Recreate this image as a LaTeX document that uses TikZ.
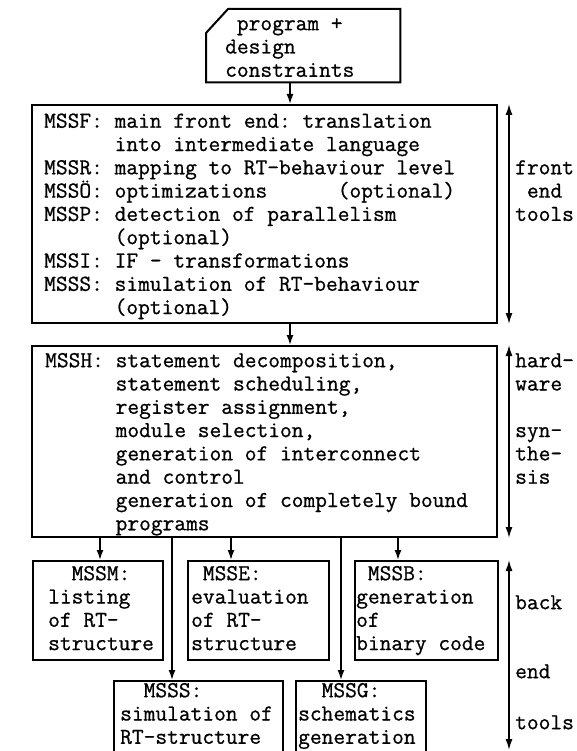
\documentclass[tikz,border=0pt]{standalone}
\usepackage{fontspec}
\setmonofont{Latin Modern Mono}[FakeBold=0.8]
\usetikzlibrary{arrows.meta}
% typewriter face used for every label
\newcommand\tw{\fontsize{22.8pt}{23.3pt}\selectfont\ttfamily}
% fixed first-line height so blocks can be placed by their top
\newcommand\fl{\rule{0pt}{18pt}}
% blank space as wide as the given characters
\newcommand\ind[1]{\hphantom{#1}}
\begin{document}
\begin{tikzpicture}[x=1pt,y=-1pt,line join=miter,
  box/.style={draw,line width=2pt,inner sep=0pt,anchor=north west},
  txt/.style={font=\tw,align=left,inner sep=0pt,anchor=north west},
  arr/.style={line width=1.5pt,-{Latex[length=10pt,width=7pt]}},
  darr/.style={line width=1.5pt,{Latex[length=11pt,width=7pt]}-{Latex[length=11pt,width=7pt]}}]
\useasboundingbox (0,0) rectangle (577,751);

% input box with the cut corner
\node[inner sep=0pt,minimum width=194pt,minimum height=73pt,anchor=north west] (prog) at (206,9) {};
\draw[line width=2pt] (prog.north west) ++(0,24) -- ++(22,-24) -- (prog.north east)
  -- (prog.south east) -- (prog.south west) -- cycle;
\node[txt] (progtxt) at (225,12) {\fl\ind{x}program +\\design\\constraints};

% front end tools
\node[box,minimum width=465pt,minimum height=218pt] (fe) at (31,104) {};
\node[txt] (fetxt) at (44,109.5) {\fl MSSF: main front end: translation\\
\ind{MSSF: }into intermediate language\\
MSSR: mapping to RT-behaviour level\\
MSSÖ: optimizations\ind{xxxxxx}(optional)\\
MSSP: detection of parallelism\\
\ind{MSSP: }(optional)\\
MSSI: IF - transformations\\
MSSS: simulation of RT-behaviour\\
\ind{MSSS: }(optional)};

% hardware synthesis
\node[box,minimum width=465pt,minimum height=191pt] (hw) at (31,345) {};
\node[txt] (hwtxt) at (45,349) {\fl MSSH: statement decomposition,\\
\ind{MSSH: }statement scheduling,\\
\ind{MSSH: }register assignment,\\
\ind{MSSH: }module selection,\\
\ind{MSSH: }generation of interconnect\\
\ind{MSSH: }and control\\
\ind{MSSH: }generation of completely bound\\
\ind{MSSH: }programs};

% back end tools, first row
\node[box,minimum width=130pt,minimum height=99pt] (mssm) at (32,560) {};
\node[txt] (mssmtxt) at (48,562) {\fl\ind{xx}MSSM:\\listing\\of RT-\\structure};
\node[box,minimum width=141pt,minimum height=99pt] (msse) at (187,560) {};
\node[txt] (mssetxt) at (191,562) {\fl\ind{x}MSSE:\\evaluation\\of RT-\\structure};
\node[box,minimum width=143pt,minimum height=99pt] (mssb) at (354,560) {};
\node[txt] (mssbtxt) at (356,562) {\fl\ind{x}MSSB:\\generation\\of\\binary code};

% back end tools, second row
\node[box,minimum width=169pt,minimum height=76pt] (msss) at (113,680) {};
\node[txt] (mssstxt) at (120,679) {\fl\ind{xx}MSSS:\\simulation of\\RT-structure};
\node[box,minimum width=130pt,minimum height=76pt] (mssg) at (295,680) {};
\node[txt] (mssgtxt) at (298,679) {\fl\ind{xx}MSSG:\\schematics\\generation};

% flow
\coordinate (xa) at (290,0);
\coordinate (xm) at (100,0);
\coordinate (xs) at (172,0);
\coordinate (xe) at (231,0);
\coordinate (xg) at (341,0);
\coordinate (xb) at (398,0);
\draw[arr] (prog.south -| xa) -- (fe.north -| xa);
\draw[arr] (fe.south -| xa) -- (hw.north -| xa);
\draw[arr] (hw.south -| xm) -- (mssm.north -| xm);
\draw[arr] (hw.south -| xe) -- (msse.north -| xe);
\draw[arr] (hw.south -| xb) -- (mssb.north -| xb);
\draw[arr] (hw.south -| xs) -- (msss.north -| xs);
\draw[arr] (hw.south -| xg) -- (mssg.north -| xg);

% phase ranges on the right
\coordinate (xr) at (509,0);
\coordinate (beend) at (509,750);
\draw[darr] (fe.north -| xr) -- (fe.south -| xr);
\draw[darr] (hw.north -| xr) -- (hw.south -| xr);
\draw[darr] (mssb.north -| xr) -- (beend);

\node[txt] (felab) at (515,156.1) {\fl front\\\ind{f}end\\tools};
\node[txt] (hwlab) at (515,349) {\fl hard-\\ware\\\\syn-\\the-\\sis};
\node[txt] (belab1) at (515,591) {\fl back};
\node[txt] (belab2) at (515,660) {\fl end};
\node[txt] (belab3) at (515,711) {\fl tools};
\end{tikzpicture}
\end{document}
